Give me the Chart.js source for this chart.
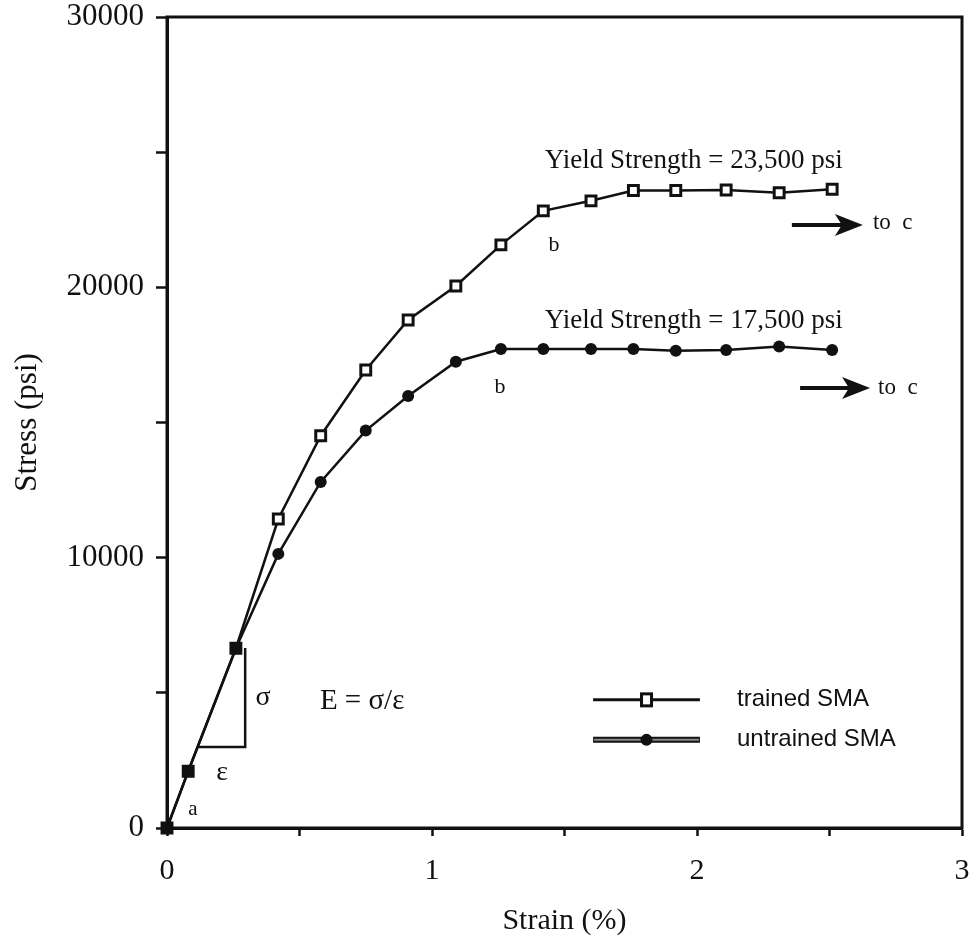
<!DOCTYPE html>
<html>
<head>
<meta charset="utf-8">
<script src="https://cdn.jsdelivr.net/npm/chart.js@4.4.1/dist/chart.umd.min.js"></script>
<style>
html, body { margin: 0; padding: 0; background: #fff; }
#stressChart { display: block; }
</style>
</head>
<body>
<canvas id="stressChart" width="974" height="943"></canvas>
<script>
// strain (%) readings shared by both specimens
const strain = [0, 0.08, 0.26, 0.42, 0.58, 0.75, 0.91, 1.09, 1.26, 1.42, 1.6, 1.76, 1.92, 2.11, 2.31, 2.51];
// stress (psi)
const trainedStress   = [0, 2100, 6650, 11430, 14510, 16940, 18790, 20050, 21570, 22830, 23200, 23580, 23580, 23600, 23500, 23630];
const untrainedStress = [0, 2100, 6650, 10140, 12800, 14700, 15980, 17250, 17720, 17720, 17720, 17720, 17650, 17680, 17810, 17680];
const seriesNames = ["trained SMA", "untrained SMA"];
const xTicks = [0, 1, 2, 3];
const yTicks = [0, 10000, 20000, 30000];

const ink = "#111";
const serif = "'Liberation Serif', 'Times New Roman', serif";

// text placed in data units (strain, stress)
const notes = [
  { text: "Yield Strength = 23,500 psi", x: 2.55, y: 24680, align: "right", size: 27 },
  { text: "Yield Strength = 17,500 psi", x: 2.55, y: 18760, align: "right", size: 27 },
  { text: "b", x: 1.46, y: 21570, align: "center", size: 22 },
  { text: "b", x: 1.257, y: 16310, align: "center", size: 22 },
  { text: "a", x: 0.098, y: 670, align: "center", size: 21 },
  { text: "ε", x: 0.208, y: 2040, align: "center", size: 28 },
  { text: "σ", x: 0.362, y: 4810, align: "center", size: 28 },
  { text: "E = σ/ε", x: 0.577, y: 4700, align: "left", size: 29 },
  { text: "to  c", x: 2.664, y: 22380, align: "left", size: 23 },
  { text: "to  c", x: 2.683, y: 16280, align: "left", size: 23 }
];
const arrows = [
  { from: 2.358, to: 2.626, y: 22310 },
  { from: 2.389, to: 2.653, y: 16280 }
];

const toPoints = ys => strain.map((s, i) => ({ x: s, y: ys[i] }));

// fixed axis box, no extra room for end labels
const fixBox = size => s => {
  if (s.isHorizontal()) s.height = size; else s.width = size;
  s.paddingTop = s.paddingBottom = s.paddingLeft = s.paddingRight = 0;
};

const overlay = {
  id: "overlay",
  afterDatasetsDraw(chart) {
    const { ctx, chartArea: a, scales: { x, y } } = chart;
    ctx.save();

    // box round the plot
    ctx.strokeStyle = ink;
    ctx.lineWidth = 3;
    ctx.strokeRect(a.left, a.top, a.right - a.left, a.bottom - a.top);

    // modulus triangle
    ctx.lineWidth = 2.5;
    ctx.beginPath();
    ctx.moveTo(x.getPixelForValue(0.12), y.getPixelForValue(3000));
    ctx.lineTo(x.getPixelForValue(0.295), y.getPixelForValue(3000));
    ctx.lineTo(x.getPixelForValue(0.295), y.getPixelForValue(6660));
    ctx.stroke();

    // "to c" arrows
    ctx.fillStyle = ink;
    arrows.forEach(ar => {
      const x0 = x.getPixelForValue(ar.from), x1 = x.getPixelForValue(ar.to), yy = y.getPixelForValue(ar.y);
      ctx.lineWidth = 4;
      ctx.beginPath();
      ctx.moveTo(x0, yy);
      ctx.lineTo(x1 - 18, yy);
      ctx.stroke();
      ctx.beginPath();
      ctx.moveTo(x1, yy);
      ctx.lineTo(x1 - 28, yy - 11);
      ctx.lineTo(x1 - 21, yy);
      ctx.lineTo(x1 - 28, yy + 11);
      ctx.closePath();
      ctx.fill();
    });

    ctx.textBaseline = "middle";
    notes.forEach(n => {
      ctx.font = n.size + "px " + serif;
      ctx.textAlign = n.align;
      ctx.fillText(n.text, x.getPixelForValue(n.x), y.getPixelForValue(n.y));
    });

    // legend
    const lx0 = x.getPixelForValue(1.608), lx1 = x.getPixelForValue(2.011);
    const lmid = (lx0 + lx1) / 2, ltext = x.getPixelForValue(2.151);
    const rows = [y.getPixelForValue(4740), y.getPixelForValue(3260)];
    ctx.font = "24px 'Liberation Sans', Arial, sans-serif";
    ctx.textAlign = "left";

    ctx.lineWidth = 3;
    ctx.beginPath(); ctx.moveTo(lx0, rows[0]); ctx.lineTo(lx1, rows[0]); ctx.stroke();
    ctx.fillStyle = "#fff";
    ctx.fillRect(lmid - 5, rows[0] - 6, 10, 12);
    ctx.strokeRect(lmid - 5, rows[0] - 6, 10, 12);
    ctx.fillStyle = ink;
    ctx.fillText(seriesNames[0], ltext, rows[0]);

    ctx.lineWidth = 6;
    ctx.beginPath(); ctx.moveTo(lx0, rows[1]); ctx.lineTo(lx1, rows[1]); ctx.stroke();
    ctx.strokeStyle = "#8a8a8a";
    ctx.lineWidth = 2;
    ctx.beginPath(); ctx.moveTo(lx0 + 1, rows[1]); ctx.lineTo(lx1 - 1, rows[1]); ctx.stroke();
    ctx.beginPath(); ctx.arc(lmid, rows[1], 6, 0, Math.PI * 2); ctx.fill();
    ctx.fillText(seriesNames[1], ltext, rows[1]);

    ctx.restore();
  }
};

new Chart(document.getElementById("stressChart"), {
  type: "line",
  data: {
    datasets: [
      {
        label: seriesNames[0],
        data: toPoints(trainedStress),
        borderColor: ink,
        borderWidth: 2.5,
        pointStyle: "rect",
        pointRadius: 7,
        pointBorderWidth: 3,
        pointBackgroundColor: "#fff",
        pointBorderColor: ink,
        tension: 0,
        clip: false,
        order: 1
      },
      {
        label: seriesNames[1],
        data: toPoints(untrainedStress),
        borderColor: ink,
        borderWidth: 2.5,
        pointStyle: "circle",
        pointRadius: 6,
        pointBorderWidth: 0,
        pointBackgroundColor: ink,
        tension: 0,
        clip: false,
        order: 0
      }
    ]
  },
  options: {
    responsive: false,
    animation: false,
    layout: { autoPadding: false, padding: { top: 17, right: 12, left: 0, bottom: 0 } },
    plugins: { legend: { display: false }, tooltip: { enabled: false } },
    scales: {
      x: {
        type: "linear",
        min: 0,
        max: 3,
        afterFit: fixBox(115),
        ticks: {
          stepSize: 0.5,
          color: ink,
          padding: 20,
          font: { family: serif, size: 30, lineHeight: 1 },
          callback: v => xTicks.includes(v) ? String(v) : ""
        },
        grid: { drawOnChartArea: false, drawTicks: true, tickLength: 8, tickWidth: 2.5, tickColor: ink },
        border: { display: true, color: ink, width: 3 },
        title: {
          display: true,
          text: "Strain (%)",
          color: ink,
          font: { family: serif, size: 30 },
          padding: { top: 0, bottom: 4 }
        }
      },
      y: {
        type: "linear",
        min: 0,
        max: 30000,
        afterFit: fixBox(167),
        ticks: {
          stepSize: 5000,
          color: ink,
          padding: 12,
          font: { family: serif, size: 31, lineHeight: 1 },
          callback: v => yTicks.includes(v) ? String(v) : ""
        },
        grid: { drawOnChartArea: false, drawTicks: true, tickLength: 11, tickWidth: 2.5, tickColor: ink },
        border: { display: true, color: ink, width: 3 },
        title: {
          display: true,
          text: "Stress (psi)",
          color: ink,
          font: { family: serif, size: 31 },
          padding: { top: 9, bottom: 0 }
        }
      }
    }
  },
  plugins: [overlay]
});
</script>
</body>
</html>
